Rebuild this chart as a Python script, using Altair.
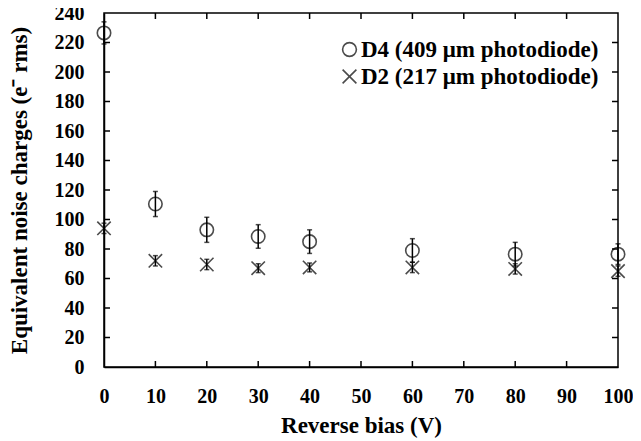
import altair as alt
import pandas as pd

bias = [0, 10, 20, 30, 40, 60, 80, 100]
d4 = [226.5, 110.5, 93, 88.5, 85, 79, 76.5, 76.5]
d4_err = [7.5, 8.5, 8.5, 8, 8, 8, 8, 7]
d2 = [94, 72, 69.5, 67, 67.5, 67.5, 66.5, 65]
d2_err = [3.5, 3.5, 3.5, 3, 3, 3.5, 3.5, 3.5]

series_names = ["D4 (409 μm photodiode)", "D2 (217 μm photodiode)"]
x_ticks = [0, 10, 20, 30, 40, 50, 60, 70, 80, 90, 100]
y_ticks = list(range(0, 241, 20))

rows = []
for b, v, e in zip(bias, d4, d4_err):
    rows.append({"bias": b, "val": v, "lo": v - e, "hi": v + e, "series": series_names[0]})
for b, v, e in zip(bias, d2, d2_err):
    rows.append({"bias": b, "val": v, "lo": v - e, "hi": v + e, "series": series_names[1]})
df = pd.DataFrame(rows)

FONT = "Liberation Serif"
W, H = 514, 354

xscale = alt.Scale(domain=[0, 100], nice=False, zero=False)
yscale = alt.Scale(domain=[0, 240], nice=False)

X_SHAPE = "M-1,-1L1,1M-1,1L1,-1"

x_axis = alt.Axis(values=x_ticks, title="Reverse bias (V)", tickSize=0,
                  labelPadding=19, titlePadding=8, grid=False, format="d",
                  labelOverlap=False, labelFlush=False, titleFontSize=23)
y_axis = alt.Axis(values=y_ticks, title="Equivalent noise charges (e⁻ rms)",
                  tickSize=0, labelPadding=20, titlePadding=23, grid=False, format="d",
                  labelOverlap=False, labelFlush=False, titleFontSize=23)


def X(field):
    return alt.X(field, scale=xscale, axis=x_axis, title="Reverse bias (V)")


def Y(field):
    return alt.Y(field, scale=yscale, axis=y_axis, title="Equivalent noise charges (e⁻ rms)")


base = alt.Chart(df)

err = base.mark_rule(color="black", strokeWidth=1.5).encode(
    x=X("bias:Q"), y=Y("lo:Q"), y2="hi:Q")
cap_lo = base.mark_tick(color="black", orient="horizontal", size=5, thickness=1.5).encode(
    x=X("bias:Q"), y=Y("lo:Q"))
cap_hi = base.mark_tick(color="black", orient="horizontal", size=5, thickness=1.5).encode(
    x=X("bias:Q"), y=Y("hi:Q"))

pts = base.mark_point(filled=False, color="black", strokeWidth=1.6, size=180, clip=False).encode(
    x=X("bias:Q"), y=Y("val:Q"),
    shape=alt.Shape("series:N",
                    scale=alt.Scale(domain=series_names, range=["circle", X_SHAPE]),
                    legend=alt.Legend(title=None, orient="none", legendX=234, legendY=25,
                                      labelFont=FONT, labelFontSize=23, labelFontWeight="bold",
                                      labelColor="black", labelLimit=0, symbolSize=190,
                                      symbolStrokeWidth=1.6,
                                      symbolStrokeColor="black", symbolFillColor="transparent",
                                      rowPadding=3, labelOffset=0, symbolOffset=0)),
)

# inner ticks (axis ticks pointing into the plot)
ytick_df = pd.DataFrame({"t": [v for v in y_ticks if 0 < v < 240]})
xtick_df = pd.DataFrame({"t": [v for v in x_ticks if 0 < v < 100]})

ytl = alt.Chart(ytick_df).mark_rule(color="black", strokeWidth=1.5).encode(
    y=Y("t:Q"), x=alt.value(0), x2=alt.value(6))
ytr = alt.Chart(ytick_df).mark_rule(color="black", strokeWidth=1.5).encode(
    y=Y("t:Q"), x=alt.value(W - 6), x2=alt.value(W))
xtb = alt.Chart(xtick_df).mark_rule(color="black", strokeWidth=1.5).encode(
    x=X("t:Q"), y=alt.value(H - 6), y2=alt.value(H))
xtt = alt.Chart(xtick_df).mark_rule(color="black", strokeWidth=1.5).encode(
    x=X("t:Q"), y=alt.value(0), y2=alt.value(6))

chart = alt.layer(pts, ytl, ytr, xtb, xtt, err, cap_lo, cap_hi).properties(
    width=W, height=H,
    background="white",
    autosize=alt.AutoSizeParams(type="none"),
    padding={"left": 96, "top": 5, "right": 15, "bottom": 74},
).configure_view(
    stroke="black", strokeWidth=1.5
).configure_axis(
    domainColor="black", domainWidth=1.5,
    labelFont=FONT, labelFontSize=20, labelFontWeight="bold", labelColor="black",
    titleFont=FONT, titleFontSize=23, titleFontWeight="bold", titleColor="black",
)

chart.save("out.html", embed_options={"renderer": "svg", "actions": False})
